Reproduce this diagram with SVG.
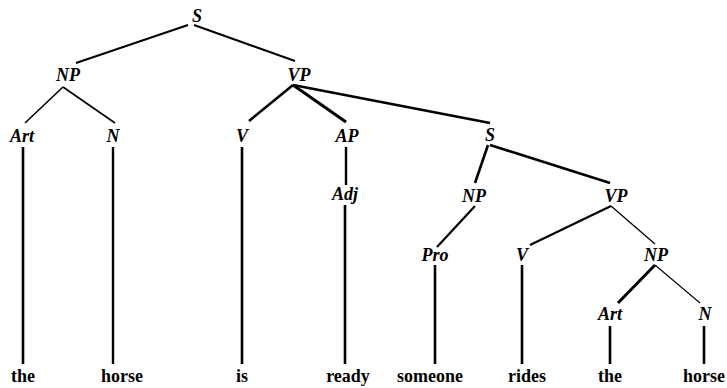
<svg xmlns="http://www.w3.org/2000/svg" width="727" height="388" viewBox="0 0 727 388">
  <style>
    .lbl { font-family: 'Liberation Serif', serif; font-size: 18px; font-style: italic; font-weight: bold; fill: #000; text-anchor: middle; }
    .word { font-family: 'Liberation Serif', serif; font-size: 18px; font-weight: bold; fill: #000; text-anchor: middle; }
    .edge { stroke: #000; stroke-linecap: butt; fill: none; }
  </style>
  <rect width="727" height="388" fill="#fff"/>

  <!-- tree branches -->
  <g id="connectors" class="edge">
    <line x1="188" y1="25" x2="76" y2="63" stroke-width="2"/>
    <line x1="194" y1="25" x2="295" y2="61" stroke-width="2"/>
    <line x1="63" y1="87" x2="25" y2="123" stroke-width="1.6"/>
    <line x1="63" y1="87" x2="115" y2="123" stroke-width="1.6"/>
    <line x1="293" y1="85" x2="249" y2="121" stroke-width="2.6"/>
    <line x1="293" y1="85" x2="346" y2="122" stroke-width="3"/>
    <line x1="293" y1="85" x2="490" y2="123" stroke-width="2.6"/>
    <line x1="488" y1="145" x2="475" y2="183" stroke-width="2.6"/>
    <line x1="490" y1="145" x2="610" y2="183" stroke-width="2.6"/>
    <line x1="475" y1="206" x2="437" y2="247" stroke-width="2.2"/>
    <line x1="611" y1="206" x2="530" y2="245" stroke-width="2.2"/>
    <line x1="611" y1="206" x2="655" y2="244" stroke-width="1.3"/>
    <line x1="655" y1="265" x2="618" y2="303" stroke-width="3"/>
    <line x1="655" y1="265" x2="700" y2="303" stroke-width="1.1"/>
    <!-- stems down to the words -->
    <line x1="23" y1="147" x2="23" y2="364" stroke-width="2.6"/>
    <line x1="113" y1="147" x2="113" y2="364" stroke-width="2.4"/>
    <line x1="242" y1="147" x2="242" y2="364" stroke-width="2.6"/>
    <line x1="346" y1="147" x2="346" y2="185" stroke-width="2.4"/>
    <line x1="345" y1="205" x2="345" y2="364" stroke-width="2.6"/>
    <line x1="435" y1="265" x2="435" y2="364" stroke-width="2.6"/>
    <line x1="522" y1="265" x2="522" y2="364" stroke-width="2.6"/>
    <line x1="610" y1="326" x2="610" y2="364" stroke-width="2.6"/>
    <line x1="704" y1="326" x2="704" y2="364" stroke-width="2.6"/>
  </g>

  <!-- category nodes -->
  <g id="s-root"><text class="lbl" x="197" y="22">S</text></g>
  <g id="np-subj"><text class="lbl" x="68" y="81">NP</text></g>
  <g id="vp-main"><text class="lbl" x="299" y="81">VP</text></g>
  <g id="art-1"><text class="lbl" x="22" y="142">Art</text></g>
  <g id="n-1"><text class="lbl" x="113" y="142">N</text></g>
  <g id="v-1"><text class="lbl" x="242" y="142">V</text></g>
  <g id="ap"><text class="lbl" x="347" y="142">AP</text></g>
  <g id="adj"><text class="lbl" x="345" y="200">Adj</text></g>
  <g id="s-rel"><text class="lbl" x="490" y="141">S</text></g>
  <g id="np-rel"><text class="lbl" x="474" y="202">NP</text></g>
  <g id="vp-rel"><text class="lbl" x="616" y="202">VP</text></g>
  <g id="pro"><text class="lbl" x="435" y="261">Pro</text></g>
  <g id="v-2"><text class="lbl" x="522" y="261">V</text></g>
  <g id="np-obj"><text class="lbl" x="656" y="261">NP</text></g>
  <g id="art-2"><text class="lbl" x="610" y="320">Art</text></g>
  <g id="n-2"><text class="lbl" x="705" y="320">N</text></g>

  <!-- words -->
  <g id="w-the-1"><text class="word" x="23" y="382">the</text></g>
  <g id="w-horse-1"><text class="word" x="122" y="382">horse</text></g>
  <g id="w-is"><text class="word" x="242" y="382">is</text></g>
  <g id="w-ready"><text class="word" x="348" y="382">ready</text></g>
  <g id="w-someone"><text class="word" x="430" y="382">someone</text></g>
  <g id="w-rides"><text class="word" x="527" y="382">rides</text></g>
  <g id="w-the-2"><text class="word" x="610" y="382">the</text></g>
  <g id="w-horse-2"><text class="word" x="704" y="382">horse</text></g>
</svg>
